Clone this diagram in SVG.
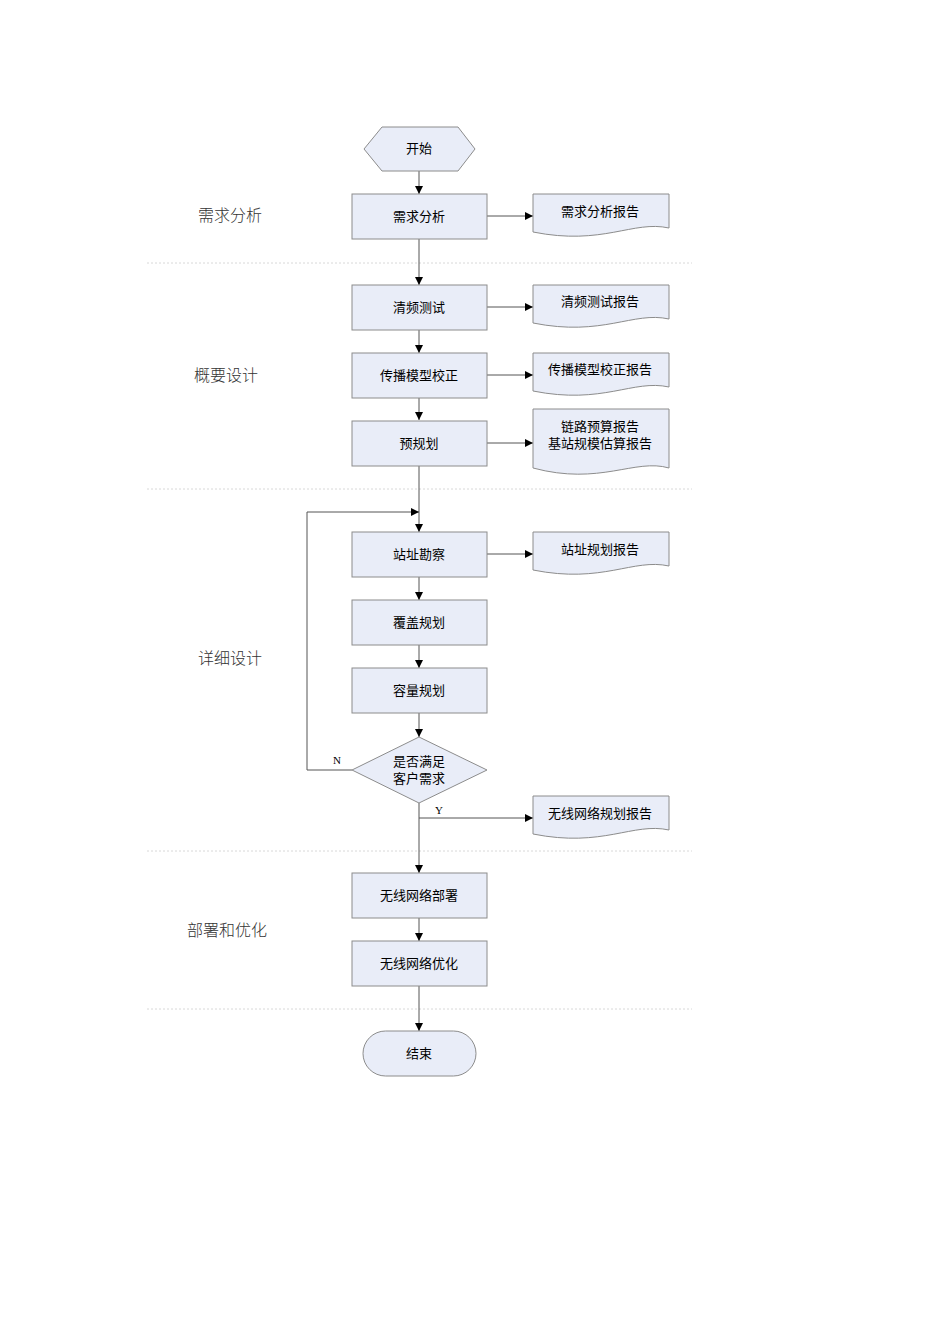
<svg xmlns="http://www.w3.org/2000/svg" width="950" height="1344" viewBox="0 0 950 1344">
<style>
.box{fill:#E9EDF8;stroke:#8C8C8C;stroke-width:1}
.t{font-family:"Noto Sans CJK SC","Noto Sans",sans-serif;font-size:13px;fill:#000;text-anchor:middle}
.sec{font-family:"Noto Sans CJK SC","Noto Sans",sans-serif;font-size:16px;fill:#333;font-weight:300}
.lbl{font-family:"Liberation Serif",serif;font-size:11px;fill:#000}
.c{fill:none;stroke:#555;stroke-width:1}
.div{stroke:#D8D8D8;stroke-width:1;stroke-dasharray:2 2}
</style>
<defs>
<marker id="ah" viewBox="0 0 10 10" refX="10" refY="5" markerWidth="8" markerHeight="8" markerUnits="userSpaceOnUse" orient="auto">
<path d="M0,0 L10,5 L0,10 Z" fill="#000"/>
</marker>
<path id="doc" d="M0,0 H136 V34 C100,26 70,52 0,38 Z"/>
</defs>
<rect width="950" height="1344" fill="#fff"/>
<g id="dividers">
<line class="div" x1="147" y1="263" x2="692" y2="263"/>
<line class="div" x1="147" y1="489" x2="692" y2="489"/>
<line class="div" x1="147" y1="851" x2="692" y2="851"/>
<line class="div" x1="147" y1="1009" x2="692" y2="1009"/>
</g>
<g id="sections">
<text class="sec" x="198" y="221">需求分析</text>
<text class="sec" x="194" y="381">概要设计</text>
<text class="sec" x="198" y="664">详细设计</text>
<text class="sec" x="187" y="936">部署和优化</text>
</g>
<g id="connectors" marker-end="url(#ah)">
<line class="c" x1="419" y1="171" x2="419" y2="194"/>
<line class="c" x1="419" y1="239" x2="419" y2="285"/>
<line class="c" x1="419" y1="330" x2="419" y2="353"/>
<line class="c" x1="419" y1="398" x2="419" y2="420"/>
<line class="c" x1="419" y1="466" x2="419" y2="532"/>
<line class="c" x1="419" y1="577" x2="419" y2="600"/>
<line class="c" x1="419" y1="645" x2="419" y2="668"/>
<line class="c" x1="419" y1="713" x2="419" y2="737"/>
<line class="c" x1="419" y1="803" x2="419" y2="873"/>
<line class="c" x1="419" y1="918" x2="419" y2="941"/>
<line class="c" x1="419" y1="986" x2="419" y2="1031"/>
<line class="c" x1="487" y1="216" x2="533" y2="216"/>
<line class="c" x1="487" y1="307" x2="533" y2="307"/>
<line class="c" x1="487" y1="375" x2="533" y2="375"/>
<line class="c" x1="487" y1="443" x2="533" y2="443"/>
<line class="c" x1="487" y1="554" x2="533" y2="554"/>
<polyline class="c" points="419,818 533,818"/>
<polyline class="c" points="352,770 307,770 307,512 419,512"/>
</g>
<g id="edge-labels">
<text class="lbl" x="333" y="764">N</text>
<text class="lbl" x="435" y="814">Y</text>
</g>
<g id="start"><polygon class="box" points="364,149 382,127 458,127 475,149 458,171 382,171"/><text class="t" x="419" y="153">开始</text></g>
<g id="n1"><rect class="box" x="352" y="194" width="135" height="45"/><text class="t" x="419" y="221">需求分析</text></g>
<g id="n2"><rect class="box" x="352" y="285" width="135" height="45"/><text class="t" x="419" y="312">清频测试</text></g>
<g id="n3"><rect class="box" x="352" y="353" width="135" height="45"/><text class="t" x="419" y="380">传播模型校正</text></g>
<g id="n4"><rect class="box" x="352" y="421" width="135" height="45"/><text class="t" x="419" y="448">预规划</text></g>
<g id="n5"><rect class="box" x="352" y="532" width="135" height="45"/><text class="t" x="419" y="559">站址勘察</text></g>
<g id="n6"><rect class="box" x="352" y="600" width="135" height="45"/><text class="t" x="419" y="627">覆盖规划</text></g>
<g id="n7"><rect class="box" x="352" y="668" width="135" height="45"/><text class="t" x="419" y="695">容量规划</text></g>
<g id="d1"><polygon class="box" points="352,770 419,737 487,770 419,803"/><text class="t" x="419" y="766">是否满足</text><text class="t" x="419" y="783">客户需求</text></g>
<g id="n8"><rect class="box" x="352" y="873" width="135" height="45"/><text class="t" x="419" y="900">无线网络部署</text></g>
<g id="n9"><rect class="box" x="352" y="941" width="135" height="45"/><text class="t" x="419" y="968">无线网络优化</text></g>
<g id="end"><rect class="box" x="363" y="1031" width="113" height="45" rx="22.5"/><text class="t" x="419" y="1058">结束</text></g>
<g id="r1"><use href="#doc" class="box" x="533" y="194"/><text class="t" x="600" y="216">需求分析报告</text></g>
<g id="r2"><use href="#doc" class="box" x="533" y="285"/><text class="t" x="600" y="306">清频测试报告</text></g>
<g id="r3"><use href="#doc" class="box" x="533" y="353"/><text class="t" x="600" y="374">传播模型校正报告</text></g>
<g id="r4"><path class="box" d="M533,409 H669 V468 C635,458 600,486 533,468 Z"/><text class="t" x="600" y="431">链路预算报告</text><text class="t" x="600" y="448">基站规模估算报告</text></g>
<g id="r5"><use href="#doc" class="box" x="533" y="532"/><text class="t" x="600" y="554">站址规划报告</text></g>
<g id="r6"><use href="#doc" class="box" x="533" y="796"/><text class="t" x="600" y="818">无线网络规划报告</text></g>
</svg>
